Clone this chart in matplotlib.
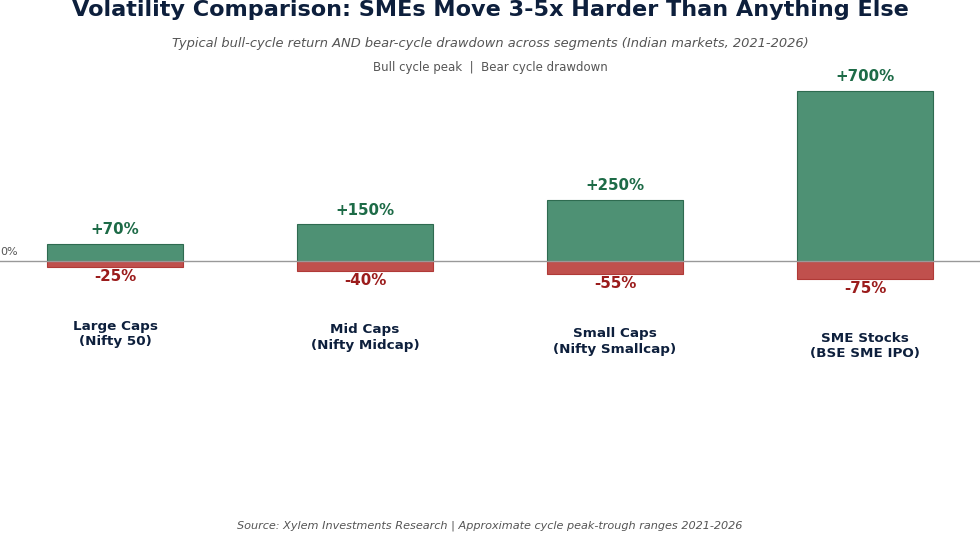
import matplotlib.pyplot as plt
import numpy as np

categories = ["Large Caps\n(Nifty 50)", "Mid Caps\n(Nifty Midcap)",
              "Small Caps\n(Nifty Smallcap)", "SME Stocks\n(BSE SME IPO)"]
bull_peak = [70, 150, 250, 700]
bear_drawdown = [-25, -40, -55, -75]

green = "#4e9174"
red = "#c0504d"
navy = "#0d1f3c"

fig = plt.figure(figsize=(9.8, 5.33), dpi=100)
ax = fig.add_axes([0, 0, 1, 1])

x = np.arange(len(categories))
ax.bar(x, bull_peak, width=0.545, color=green, edgecolor="#2e6b50", linewidth=0.8)
ax.bar(x, bear_drawdown, width=0.545, color=red, edgecolor="#b03a37", linewidth=0.8)
ax.axhline(0, color="#999999", linewidth=1)

ax.set_xlim(-0.46, 3.46)
ax.set_ylim(-1120, 1074)
ax.axis("off")

for xi, up, dn, cat in zip(x, bull_peak, bear_drawdown, categories):
    ax.annotate(f"+{up}%", (xi, up), xytext=(0, 5), textcoords="offset points",
                ha="center", va="bottom", fontsize=10.8, fontweight="bold", color="#1d6b47")
    ax.annotate(f"{dn}%", (xi, dn), xytext=(0, -1.5), textcoords="offset points",
                ha="center", va="top", fontsize=10.8, fontweight="bold", color="#9b1c1c")
    ax.annotate(cat, (xi, dn), xytext=(0, -38), textcoords="offset points",
                ha="center", va="top", fontsize=9.7, fontweight="bold", color=navy,
                linespacing=1.25)

fig.text(0.0, (533 - 252) / 533, "0%", ha="left", va="center",
         fontsize=8, color="#555555")

fig.text(0.5, 1 - 10.5 / 533, "Volatility Comparison: SMEs Move 3-5x Harder Than Anything Else",
         ha="center", va="center", fontsize=16.1, fontweight="bold", color=navy)
fig.text(0.5, 1 - 43 / 533, "Typical bull-cycle return AND bear-cycle drawdown across segments (Indian markets, 2021-2026)",
         ha="center", va="center", fontsize=9.4, style="italic", color="#555555")
fig.text(0.5, 1 - 68 / 533, "Bull cycle peak  |  Bear cycle drawdown",
         ha="center", va="center", fontsize=8.5, color="#555555")
fig.text(0.5, 1 - 526 / 533, "Source: Xylem Investments Research | Approximate cycle peak-trough ranges 2021-2026",
         ha="center", va="center", fontsize=8.1, style="italic", color="#555555")

fig.savefig("out.png", dpi=100)
